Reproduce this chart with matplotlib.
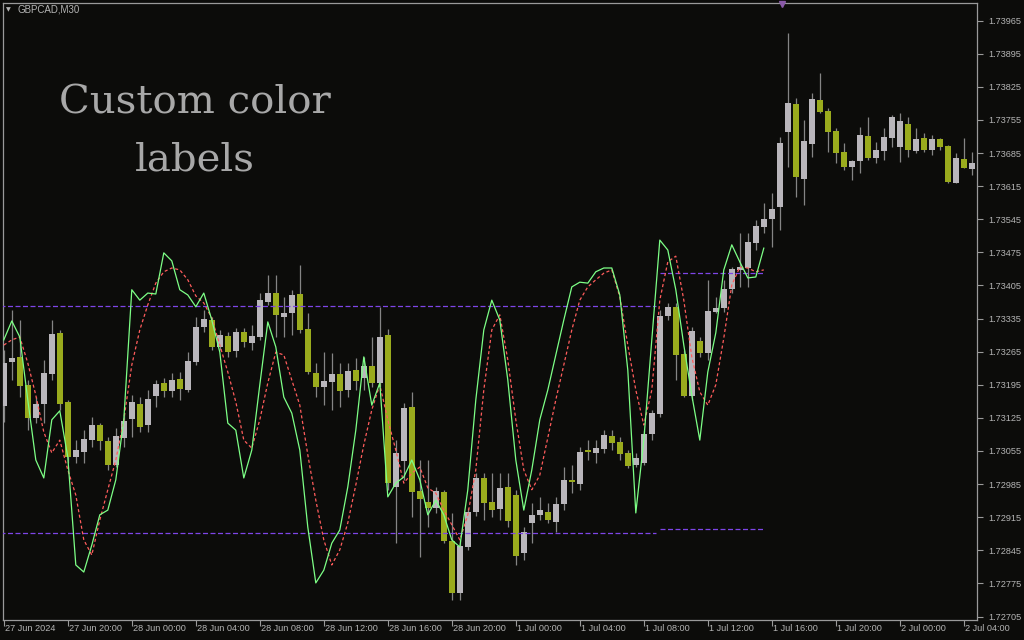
import matplotlib
matplotlib.use("Agg")
import matplotlib.pyplot as plt
import numpy as np

# ---------------- data (GBPCAD M30) ----------------
opens = [1.73150,1.73243,1.73254,1.73195,1.73125,1.73154,1.73218,1.73305,1.73159,1.73042,
         1.73053,1.73078,1.73110,1.73076,1.73025,1.73083,1.73123,1.73154,1.73110,1.73171,
         1.73199,1.73182,1.73207,1.73184,1.73243,1.73317,1.73332,1.73275,1.73298,1.73267,
         1.73307,1.73283,1.73296,1.73370,1.73389,1.73338,1.73347,1.73387,1.73313,1.73220,
         1.73190,1.73201,1.73218,1.73184,1.73226,1.73209,1.73235,1.73199,1.73300,1.72979,
         1.73034,1.73148,1.72970,1.72947,1.72934,1.72968,1.72865,1.72755,1.72852,1.72926,
         1.72998,1.72947,1.72932,1.72979,1.72962,1.72839,1.72903,1.72920,1.72926,1.72905,
         1.72943,1.72994,1.72985,1.73057,1.73051,1.73059,1.73087,1.73074,1.73051,1.73025,
         1.73030,1.73091,1.73133,1.73341,1.73360,1.73260,1.73171,1.73288,1.73262,1.73349,
         1.73357,1.73398,1.73438,1.73442,1.73495,1.73529,1.73546,1.73571,1.73730,1.73789,
         1.73630,1.73704,1.73797,1.73774,1.73732,1.73687,1.73656,1.73668,1.73721,1.73675,
         1.73690,1.73717,1.73698,1.73747,1.73690,1.73717,1.73692,1.73715,1.73700,1.73622,
         1.73673,1.73651]
highs = [1.73269,1.73353,1.73332,1.73205,1.73169,1.73248,1.73332,1.73311,1.73163,1.73078,
         1.73099,1.73127,1.73114,1.73085,1.73104,1.73135,1.73173,1.73169,1.73184,1.73205,
         1.73209,1.73220,1.73222,1.73264,1.73338,1.73353,1.73338,1.73311,1.73307,1.73315,
         1.73315,1.73321,1.73389,1.73427,1.73427,1.73381,1.73396,1.73448,1.73347,1.73241,
         1.73264,1.73262,1.73241,1.73241,1.73252,1.73254,1.73296,1.73360,1.73313,1.73078,
         1.73157,1.73180,1.73036,1.73036,1.72979,1.72973,1.72924,1.72867,1.72934,1.73008,
         1.73008,1.73008,1.73008,1.73008,1.72973,1.72894,1.72945,1.72958,1.72945,1.72958,
         1.73021,1.73025,1.73063,1.73078,1.73078,1.73099,1.73099,1.73085,1.73057,1.73051,
         1.73099,1.73142,1.73353,1.73368,1.73368,1.73269,1.73317,1.73296,1.73417,1.73381,
         1.73417,1.73444,1.73516,1.73516,1.73544,1.73580,1.73601,1.73719,1.73939,1.73802,
         1.73755,1.73812,1.73854,1.73780,1.73738,1.73706,1.73670,1.73740,1.73761,1.73709,
         1.73738,1.73766,1.73770,1.73761,1.73738,1.73728,1.73723,1.73717,1.73702,1.73685,
         1.73717,1.73687]
lows = [1.73116,1.73205,1.73169,1.73099,1.73114,1.73114,1.73205,1.73142,1.73030,1.73030,
        1.73030,1.73063,1.73057,1.73015,1.73021,1.73063,1.73085,1.73095,1.73095,1.73148,
        1.73169,1.73169,1.73163,1.73180,1.73237,1.73307,1.73269,1.73269,1.73254,1.73254,
        1.73275,1.73269,1.73290,1.73364,1.73296,1.73296,1.73300,1.73305,1.73218,1.73169,
        1.73152,1.73142,1.73148,1.73169,1.73184,1.73184,1.73190,1.73190,1.72972,1.72860,
        1.72994,1.72915,1.72831,1.72894,1.72924,1.72860,1.72740,1.72740,1.72846,1.72918,
        1.72909,1.72915,1.72909,1.72894,1.72814,1.72825,1.72860,1.72909,1.72903,1.72884,
        1.72930,1.72966,1.72973,1.73036,1.73030,1.73051,1.73057,1.73036,1.73019,1.73021,
        1.73025,1.73078,1.73127,1.73332,1.73205,1.73169,1.73163,1.73254,1.73248,1.73347,
        1.73349,1.73389,1.73402,1.73402,1.73480,1.73516,1.73486,1.73522,1.73656,1.73592,
        1.73575,1.73677,1.73770,1.73687,1.73664,1.73649,1.73628,1.73643,1.73670,1.73664,
        1.73670,1.73698,1.73666,1.73677,1.73685,1.73687,1.73681,1.73692,1.73622,1.73622,
        1.73654,1.73639]
closes = [1.73241,1.73252,1.73192,1.73125,1.73154,1.73220,1.73302,1.73154,1.73042,1.73057,
          1.73080,1.73110,1.73076,1.73025,1.73087,1.73118,1.73159,1.73106,1.73165,1.73197,
          1.73182,1.73205,1.73186,1.73245,1.73317,1.73334,1.73275,1.73300,1.73264,1.73307,
          1.73286,1.73298,1.73374,1.73389,1.73343,1.73347,1.73385,1.73311,1.73222,1.73190,
          1.73203,1.73218,1.73182,1.73224,1.73203,1.73235,1.73199,1.73296,1.72987,1.73051,
          1.73146,1.72968,1.72954,1.72934,1.72970,1.72865,1.72755,1.72854,1.72926,1.72998,
          1.72945,1.72930,1.72977,1.72907,1.72833,1.72884,1.72920,1.72930,1.72909,1.72943,
          1.72994,1.72990,1.73053,1.73053,1.73061,1.73089,1.73072,1.73049,1.73023,1.73040,
          1.73091,1.73135,1.73341,1.73360,1.73258,1.73171,1.73309,1.73262,1.73351,1.73357,
          1.73398,1.73440,1.73444,1.73497,1.73531,1.73546,1.73567,1.73706,1.73791,1.73634,
          1.73711,1.73799,1.73772,1.73730,1.73685,1.73656,1.73668,1.73723,1.73675,1.73692,
          1.73719,1.73761,1.73753,1.73692,1.73715,1.73692,1.73715,1.73698,1.73624,1.73675,
          1.73654,1.73664]

fast_line = [1.73290,1.73330,1.73296,1.73163,1.73036,1.72998,1.73121,1.73140,1.73042,1.72814,
             1.72799,1.72856,1.72920,1.72930,1.72994,1.73121,1.73396,1.73374,1.73389,1.73387,
             1.73474,1.73457,1.73396,1.73385,1.73360,1.73389,1.73332,1.73264,1.73114,1.73099,
             1.72998,1.73057,1.73195,1.73328,1.73275,1.73169,1.73135,1.73057,1.72894,1.72776,
             1.72803,1.72860,1.72888,1.72979,1.73099,1.73254,1.73152,1.73199,1.72958,1.72987,
             1.73000,1.73036,1.72994,1.72920,1.72951,1.72920,1.72867,1.72852,1.72973,1.73163,
             1.73311,1.73374,1.73332,1.73205,1.73036,1.72930,1.73015,1.73121,1.73184,1.73258,
             1.73332,1.73402,1.73412,1.73410,1.73434,1.73442,1.73442,1.73385,1.73226,1.72924,
             1.73078,1.73290,1.73501,1.73480,1.73396,1.73279,1.73173,1.73078,1.73222,1.73305,
             1.73438,1.73491,1.73455,1.73421,1.73423,1.73484]
slow_line = [1.73279,1.73290,1.73296,1.73241,1.73173,1.73095,1.73051,1.73078,1.73015,1.72962,
             1.72867,1.72835,1.72909,1.72973,1.73036,1.73121,1.73237,1.73311,1.73364,1.73410,
             1.73434,1.73442,1.73438,1.73417,1.73383,1.73368,1.73336,1.73279,1.73222,1.73159,
             1.73078,1.73061,1.73121,1.73199,1.73264,1.73258,1.73205,1.73152,1.73047,1.72951,
             1.72867,1.72814,1.72846,1.72903,1.72983,1.73068,1.73142,1.73195,1.73121,1.73057,
             1.72987,1.73008,1.73021,1.72977,1.72966,1.72930,1.72899,1.72867,1.72920,1.73015,
             1.73184,1.73311,1.73343,1.73248,1.73121,1.73015,1.72973,1.73004,1.73083,1.73163,
             1.73237,1.73311,1.73374,1.73402,1.73417,1.73431,1.73438,1.73381,1.73279,1.73184,
             1.73110,1.73184,1.73374,1.73455,1.73467,1.73374,1.73254,1.73180,1.73152,1.73195,
             1.73294,1.73406,1.73444,1.73442,1.73434,1.73438]

level_high = [1.73362, 1.73431]
level_low = [1.72882, 1.72890]
level_start = [0, 82]
level_end = [81.5, 95]

price_ticks = [1.72705 + 0.0007 * k for k in range(19)]
time_labels = ['27 Jun 2024', '27 Jun 20:00', '28 Jun 00:00', '28 Jun 04:00',
               '28 Jun 08:00', '28 Jun 12:00', '28 Jun 16:00', '28 Jun 20:00',
               '1 Jul 00:00', '1 Jul 04:00', '1 Jul 08:00', '1 Jul 12:00',
               '1 Jul 16:00', '1 Jul 20:00', '2 Jul 00:00', '2 Jul 04:00']
time_label_bars = [8 * k for k in range(16)]

# ---------------- styling ----------------
BG = '#0c0c0a'
BULL = '#b9b6bb'
BEAR = '#9aab1d'
WICK = '#858585'
FRAME = '#9a9a9a'
TXT = '#b4b4b4'

W, H = 1024, 640
fig = plt.figure(figsize=(W / 100, H / 100), dpi=100, facecolor=BG)
ax = fig.add_axes([3 / W, 20 / H, (977 - 3) / W, (620 - 3) / H], facecolor=BG)

n = len(opens)
x = np.arange(n)
o = np.array(opens); c = np.array(closes); hi = np.array(highs); lo = np.array(lows)
up = c >= o

ax.vlines(x, lo, hi, color=WICK, linewidth=0.9, zorder=2)
bottom = np.minimum(o, c)
height = np.maximum(np.abs(c - o), 0.000015)
colors = [BULL if u else BEAR for u in up]
ax.bar(x, height, bottom=bottom, width=0.82, color=colors, linewidth=0, zorder=3)

# level lines (purple dashed)
for s, e, lv in zip(level_start, level_end, level_high):
    ax.hlines(lv, s - 0.5 if s == 0 else s, e, colors='#7e45e8', linestyles=(0, (4, 2)), linewidth=0.9, zorder=4)
for s, e, lv in zip(level_start, level_end, level_low):
    ax.hlines(lv, s - 0.5 if s == 0 else s, e, colors='#7e45e8', linestyles=(0, (4, 2)), linewidth=0.9, zorder=4)

xf = np.arange(len(fast_line))
ax.plot(xf, slow_line, color='#ff5c5c', linewidth=0.9, linestyle=(0, (2.5, 2)), zorder=5)
ax.plot(xf, fast_line, color='#7dff86', linewidth=0.9, zorder=6)

ax.set_xlim(-0.1, 121.65)
ax.set_ylim(1.726976, 1.740024)

# axes frame
for sp in ax.spines.values():
    sp.set_color(FRAME)
    sp.set_linewidth(0.9)

ax.yaxis.tick_right()
ax.set_yticks(price_ticks)
ax.set_yticklabels([f'{p:.5f}' for p in price_ticks])
ax.tick_params(axis='y', colors=FRAME, length=4, width=0.8, pad=4,
               labelsize=6.6, labelcolor=TXT, direction='out')
for lab in ax.get_yticklabels():
    lab.set_fontfamily('Liberation Sans')

ax.set_xticks(time_label_bars)
ax.set_xticklabels([''] * len(time_label_bars))
ax.tick_params(axis='x', colors=FRAME, length=4, width=0.8, direction='out')
for b, t in zip(time_label_bars, time_labels):
    ax.annotate(t, xy=(b, 0), xycoords=('data', 'axes fraction'), xytext=(1, -6.2),
                textcoords='offset points', ha='left', va='center', fontsize=6.6,
                color=TXT, family='Liberation Sans', annotation_clip=False)

# header
fig.text(6 / W, 1 - 10 / H, '\u25BC', fontsize=4.5, color=TXT, va='center', ha='left', family='DejaVu Sans')
fig.text(17 / W, 1 - 10 / H, 'GBPCAD,M30', fontsize=7, color=TXT, va='center', ha='left', family='Liberation Sans')

# big label
fig.text(195 / W, 1 - 103 / H, 'Custom color', fontsize=29, color='#a8a8a8', ha='center', va='center', family='DejaVu Serif')
fig.text(195 / W, 1 - 160 / H, 'labels', fontsize=29, color='#a8a8a8', ha='center', va='center', family='DejaVu Serif')

# small marker at top
ax.plot([97.3], [1.739995], marker='v', color='#8a5aa8', markersize=5, clip_on=False, zorder=7)

fig.savefig('out.png', dpi=100, facecolor=BG)
